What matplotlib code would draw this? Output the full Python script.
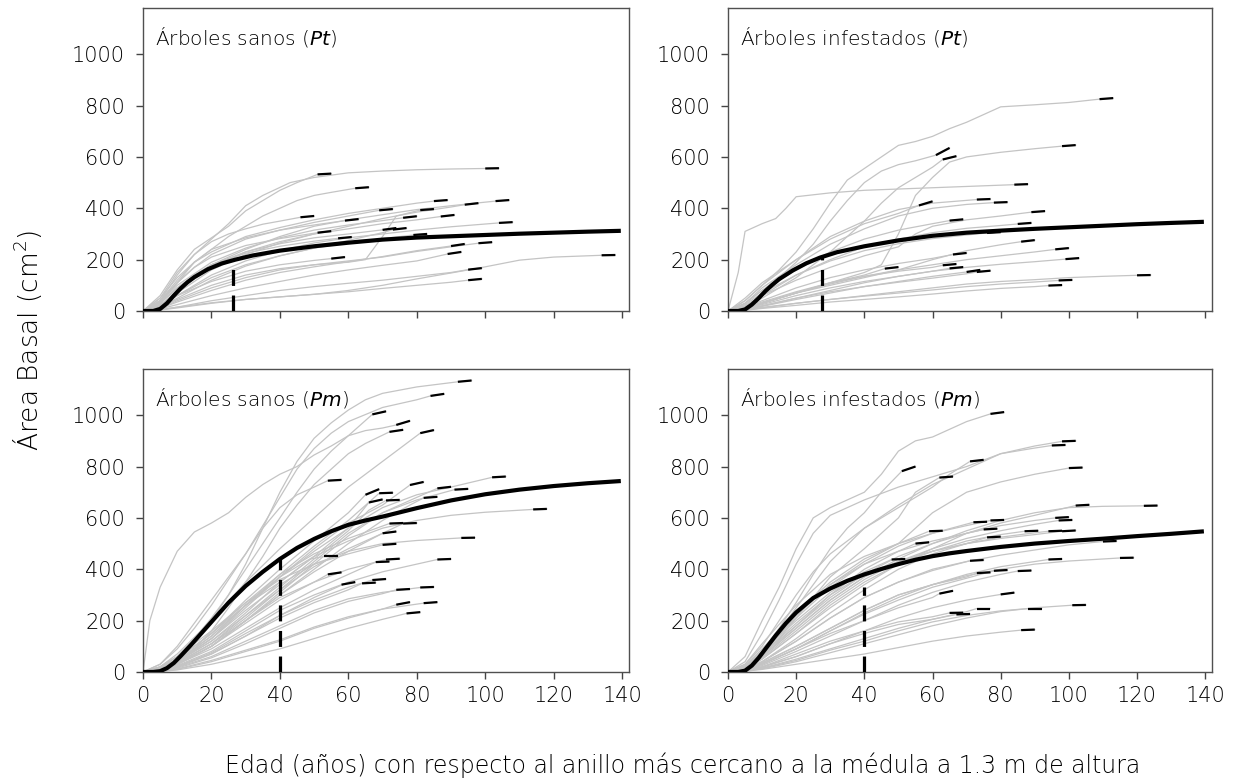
import matplotlib
matplotlib.use("Agg")
import matplotlib.pyplot as plt

plt.rcParams['font.family'] = ['DejaVu Sans']
plt.rcParams['font.weight'] = 200
plt.rcParams['mathtext.fontset'] = 'dejavusans'

# --- datos: (edad, área basal) de cada árbol; el último tramo de cada serie se marca en negro ---
sanos_pt = [
    [(0, 0), (5, 40), (10, 140), (15, 220), (20, 280), (25, 340), (30, 410), (35, 450), (43, 500), (50, 520), (60, 538), (70, 545), (80, 550), (90, 553), (100, 555), (104, 556)],
    [(0, 0), (5, 60), (10, 160), (15, 240), (20, 285), (25, 330), (30, 390), (35, 430), (40, 470), (45, 500), (51, 532), (55, 535)],
    [(0, 0), (5, 30), (10, 110), (15, 190), (20, 240), (25, 290), (30, 330), (35, 370), (40, 400), (45, 430), (50, 450), (55, 462), (62, 478), (66, 482)],
    [(0, 0), (5, 30), (10, 90), (20, 180), (30, 240), (40, 290), (50, 330), (60, 355), (70, 375), (80, 395), (90, 410), (103, 428), (107, 432)],
    [(0, 0), (5, 25), (10, 70), (20, 160), (30, 220), (40, 265), (50, 300), (60, 330), (70, 360), (80, 385), (90, 405), (94, 414), (98, 420)],
    [(0, 0), (5, 50), (10, 130), (15, 190), (20, 230), (30, 290), (40, 325), (50, 355), (60, 380), (70, 400), (80, 420), (85, 428), (89, 432)],
    [(0, 0), (5, 40), (10, 110), (15, 170), (20, 220), (30, 280), (40, 315), (50, 345), (60, 370), (69, 392), (73, 397)],
    [(0, 0), (5, 15), (10, 45), (20, 100), (30, 140), (40, 165), (50, 180), (60, 190), (65, 200), (70, 290), (74, 370), (81, 393), (85, 397)],
    [(0, 0), (5, 35), (10, 100), (20, 190), (30, 245), (40, 285), (50, 315), (60, 335), (70, 352), (76, 363), (80, 369)],
    [(0, 0), (5, 20), (10, 80), (20, 170), (30, 230), (40, 270), (50, 300), (60, 320), (70, 340), (80, 355), (87, 368), (91, 374)],
    [(0, 0), (5, 50), (10, 150), (15, 220), (20, 270), (25, 300), (30, 320), (35, 338), (40, 350), (46, 365), (50, 370)],
    [(0, 0), (5, 40), (10, 120), (15, 190), (20, 240), (30, 285), (40, 315), (50, 335), (59, 352), (63, 358)],
    [(0, 0), (5, 20), (10, 60), (20, 140), (30, 195), (40, 235), (50, 265), (60, 285), (70, 300), (80, 315), (90, 328), (104, 343), (108, 346)],
    [(0, 0), (5, 30), (10, 90), (20, 180), (30, 230), (40, 262), (50, 285), (60, 300), (70, 316), (74, 323)],
    [(0, 0), (5, 20), (10, 60), (20, 130), (30, 180), (40, 215), (50, 245), (60, 275), (70, 305), (73, 317), (77, 323)],
    [(0, 0), (5, 40), (10, 110), (15, 170), (20, 210), (30, 255), (40, 282), (51, 305), (55, 311)],
    [(0, 0), (5, 30), (10, 90), (15, 140), (20, 180), (30, 225), (40, 252), (50, 272), (57, 283), (61, 288)],
    [(0, 0), (5, 15), (10, 50), (20, 120), (30, 175), (40, 215), (50, 245), (60, 265), (70, 282), (79, 296), (83, 300)],
    [(0, 0), (5, 10), (10, 40), (20, 90), (30, 130), (40, 160), (50, 180), (60, 195), (70, 210), (80, 232), (90, 250), (98, 264), (102, 268)],
    [(0, 0), (5, 10), (10, 35), (20, 80), (30, 120), (40, 150), (50, 172), (60, 192), (70, 212), (80, 235), (90, 253), (94, 261)],
    [(0, 0), (5, 8), (10, 25), (20, 60), (30, 90), (40, 115), (50, 140), (60, 160), (70, 178), (80, 195), (89, 222), (93, 230)],
    [(0, 0), (5, 25), (10, 60), (20, 115), (30, 155), (40, 180), (50, 197), (55, 204), (59, 210)],
    [(0, 0), (5, 5), (10, 15), (20, 40), (30, 60), (40, 80), (50, 95), (60, 108), (70, 120), (80, 135), (90, 150), (95, 161), (99, 167)],
    [(0, 0), (5, 4), (10, 12), (20, 30), (30, 45), (40, 55), (50, 65), (60, 75), (70, 88), (80, 100), (90, 112), (95, 120), (99, 125)],
    [(0, 0), (5, 5), (10, 15), (20, 32), (30, 45), (40, 55), (50, 65), (60, 80), (70, 100), (80, 125), (90, 148), (100, 172), (110, 198), (120, 210), (130, 215), (134, 217), (138, 218)],
]

infestados_pt = [
    [(0, 0), (5, 40), (10, 100), (15, 160), (20, 230), (25, 320), (30, 420), (35, 510), (40, 555), (45, 600), (50, 645), (55, 660), (60, 680), (65, 710), (70, 735), (75, 765), (80, 795), (90, 803), (100, 812), (109, 825), (113, 829)],
    [(0, 0), (5, 10), (10, 30), (20, 70), (30, 110), (40, 150), (45, 180), (50, 300), (55, 450), (60, 520), (65, 580), (70, 600), (80, 618), (90, 632), (98, 642), (102, 646)],
    [(0, 0), (5, 30), (10, 80), (15, 130), (20, 190), (25, 260), (30, 350), (35, 430), (40, 500), (45, 545), (50, 570), (55, 585), (61, 607), (65, 635)],
    [(0, 0), (5, 15), (10, 50), (15, 90), (20, 130), (25, 180), (30, 230), (35, 290), (40, 350), (45, 420), (50, 480), (55, 520), (60, 560), (63, 590), (67, 603)],
    [(0, 0), (3, 150), (5, 310), (10, 340), (14, 360), (17, 400), (20, 445), (30, 460), (40, 470), (50, 475), (60, 480), (70, 485), (84, 492), (88, 494)],
    [(0, 0), (5, 50), (10, 110), (20, 200), (30, 290), (40, 350), (50, 395), (60, 420), (73, 434), (77, 436)],
    [(0, 0), (5, 30), (10, 90), (20, 180), (30, 260), (40, 320), (50, 370), (60, 400), (70, 415), (78, 422), (82, 424)],
    [(0, 0), (5, 40), (10, 100), (20, 200), (30, 280), (40, 340), (50, 380), (56, 411), (60, 427)],
    [(0, 0), (5, 20), (10, 60), (20, 120), (30, 170), (40, 215), (50, 250), (55, 300), (60, 330), (70, 355), (80, 370), (89, 385), (93, 389)],
    [(0, 0), (5, 30), (10, 80), (20, 160), (30, 230), (40, 280), (50, 315), (60, 340), (65, 352), (69, 357)],
    [(0, 0), (5, 20), (10, 60), (20, 140), (30, 200), (40, 250), (50, 280), (60, 305), (70, 322), (80, 333), (85, 339), (89, 343)],
    [(0, 0), (5, 25), (10, 70), (20, 140), (30, 195), (40, 235), (50, 262), (60, 282), (70, 296), (76, 304), (80, 307)],
    [(0, 0), (5, 10), (10, 30), (20, 70), (30, 100), (40, 130), (50, 160), (60, 200), (70, 235), (80, 258), (86, 270), (90, 276)],
    [(0, 0), (5, 10), (10, 30), (20, 70), (30, 105), (40, 135), (50, 160), (60, 180), (70, 200), (80, 215), (90, 230), (96, 240), (100, 245)],
    [(0, 0), (5, 15), (10, 40), (20, 90), (30, 130), (40, 160), (50, 185), (60, 205), (66, 220), (70, 226)],
    [(0, 0), (5, 5), (10, 20), (20, 50), (30, 80), (40, 110), (50, 135), (60, 155), (70, 170), (80, 182), (90, 192), (99, 202), (103, 206)],
    [(0, 0), (5, 10), (10, 30), (20, 70), (30, 110), (40, 140), (46, 165), (50, 171)],
    [(0, 0), (5, 12), (10, 35), (20, 75), (30, 110), (40, 135), (50, 155), (60, 170), (63, 178), (67, 183)],
    [(0, 0), (5, 8), (10, 25), (20, 60), (30, 90), (40, 115), (50, 135), (60, 155), (65, 166), (69, 171)],
    [(0, 0), (5, 5), (10, 18), (20, 45), (30, 70), (40, 95), (50, 115), (60, 135), (70, 152), (74, 160)],
    [(0, 0), (5, 6), (10, 20), (20, 50), (30, 75), (40, 95), (50, 112), (60, 128), (70, 145), (73, 152), (77, 157)],
    [(0, 0), (5, 4), (10, 12), (20, 30), (30, 45), (40, 60), (50, 75), (60, 90), (70, 105), (80, 115), (90, 122), (100, 130), (110, 135), (120, 139), (124, 140)],
    [(0, 0), (5, 5), (10, 14), (20, 30), (30, 45), (40, 58), (50, 70), (60, 82), (70, 95), (80, 105), (90, 113), (97, 119), (101, 121)],
    [(0, 0), (5, 3), (10, 10), (20, 22), (30, 35), (40, 45), (50, 55), (60, 66), (70, 78), (80, 88), (90, 95), (94, 99), (98, 101)],
]

sanos_pm = [
    [(0, 0), (5, 20), (10, 60), (15, 120), (20, 200), (25, 300), (30, 420), (35, 560), (40, 700), (45, 820), (50, 910), (55, 970), (60, 1020), (65, 1060), (70, 1085), (80, 1110), (92, 1130), (96, 1135)],
    [(0, 0), (5, 30), (10, 90), (15, 170), (20, 260), (25, 360), (30, 460), (35, 570), (40, 680), (45, 790), (50, 870), (55, 930), (60, 975), (70, 1030), (80, 1060), (84, 1075), (88, 1083)],
    [(0, 0), (5, 15), (10, 60), (15, 130), (20, 210), (25, 300), (30, 400), (35, 500), (40, 600), (45, 700), (50, 790), (55, 860), (60, 920), (67, 1003), (71, 1015)],
    [(0, 0), (2, 200), (5, 330), (10, 470), (15, 545), (20, 580), (25, 620), (30, 680), (35, 730), (40, 770), (45, 800), (50, 845), (55, 880), (60, 920), (65, 940), (70, 950), (74, 962), (78, 978)],
    [(0, 0), (5, 10), (10, 40), (15, 90), (20, 160), (25, 250), (30, 350), (35, 450), (40, 560), (45, 650), (50, 730), (55, 790), (60, 850), (65, 890), (72, 935), (76, 943)],
    [(0, 0), (5, 20), (10, 70), (20, 200), (30, 350), (40, 480), (50, 600), (60, 720), (70, 820), (75, 870), (81, 930), (85, 942)],
    [(0, 0), (5, 10), (10, 40), (20, 120), (30, 230), (40, 350), (50, 450), (60, 560), (70, 640), (80, 690), (90, 720), (102, 758), (106, 761)],
    [(0, 0), (5, 30), (10, 100), (15, 190), (20, 280), (25, 370), (30, 460), (35, 560), (40, 640), (45, 690), (50, 720), (54, 745), (58, 748)],
    [(0, 0), (5, 10), (10, 40), (20, 130), (30, 250), (40, 370), (50, 480), (60, 580), (70, 650), (78, 728), (82, 740)],
    [(0, 0), (5, 8), (10, 30), (20, 100), (30, 200), (40, 310), (50, 420), (60, 530), (70, 620), (80, 680), (86, 715), (90, 721)],
    [(0, 0), (5, 10), (10, 35), (20, 110), (30, 210), (40, 320), (50, 430), (60, 540), (70, 620), (80, 670), (91, 710), (95, 713)],
    [(0, 0), (5, 15), (10, 50), (20, 150), (30, 280), (40, 400), (50, 510), (60, 620), (65, 690), (69, 712)],
    [(0, 0), (5, 10), (10, 40), (20, 130), (30, 260), (40, 380), (50, 490), (60, 590), (69, 696), (73, 698)],
    [(0, 0), (5, 12), (10, 45), (20, 140), (30, 260), (40, 370), (50, 470), (60, 560), (66, 660), (70, 672)],
    [(0, 0), (5, 8), (10, 35), (20, 110), (30, 220), (40, 330), (50, 440), (60, 550), (66, 630), (71, 668), (75, 670)],
    [(0, 0), (5, 10), (10, 30), (20, 100), (30, 200), (40, 300), (50, 400), (60, 500), (70, 590), (78, 650), (82, 678), (86, 682)],
    [(0, 0), (5, 10), (10, 40), (20, 140), (30, 260), (40, 370), (50, 450), (60, 510), (70, 560), (80, 590), (90, 610), (100, 622), (114, 633), (118, 635)],
    [(0, 0), (5, 15), (10, 50), (20, 150), (30, 270), (40, 380), (50, 460), (60, 520), (72, 578), (76, 580)],
    [(0, 0), (5, 10), (10, 30), (20, 100), (30, 200), (40, 300), (50, 390), (60, 470), (70, 540), (76, 578), (80, 580)],
    [(0, 0), (5, 12), (10, 40), (20, 120), (30, 220), (40, 320), (50, 410), (60, 480), (70, 540), (74, 547)],
    [(0, 0), (5, 20), (10, 60), (20, 160), (30, 270), (40, 360), (50, 420), (60, 460), (70, 495), (74, 499)],
    [(0, 0), (5, 10), (10, 40), (20, 130), (30, 240), (40, 340), (50, 420), (60, 470), (70, 500), (80, 512), (93, 522), (97, 523)],
    [(0, 0), (5, 15), (10, 50), (20, 150), (30, 260), (40, 350), (49, 440), (53, 450), (57, 450)],
    [(0, 0), (5, 8), (10, 30), (20, 90), (30, 170), (40, 250), (50, 320), (60, 380), (68, 428), (72, 430)],
    [(0, 0), (5, 10), (10, 30), (20, 100), (30, 190), (40, 280), (50, 350), (60, 400), (71, 438), (75, 441)],
    [(0, 0), (5, 5), (10, 20), (20, 70), (30, 140), (40, 220), (50, 290), (60, 350), (70, 390), (80, 420), (86, 438), (90, 440)],
    [(0, 0), (5, 10), (10, 35), (20, 110), (30, 200), (40, 290), (50, 350), (54, 380), (58, 388)],
    [(0, 0), (5, 8), (10, 25), (20, 80), (30, 160), (40, 240), (50, 300), (58, 340), (62, 350)],
    [(0, 0), (5, 5), (10, 20), (20, 70), (30, 140), (40, 210), (50, 270), (60, 320), (64, 345), (68, 348)],
    [(0, 0), (5, 6), (10, 22), (20, 75), (30, 150), (40, 220), (50, 280), (60, 330), (67, 358), (71, 362)],
    [(0, 0), (5, 5), (10, 15), (20, 55), (30, 110), (40, 170), (50, 230), (60, 275), (70, 305), (74, 320), (78, 323)],
    [(0, 0), (5, 5), (10, 18), (20, 60), (30, 120), (40, 180), (50, 240), (60, 285), (70, 310), (81, 329), (85, 331)],
    [(0, 0), (5, 3), (10, 10), (20, 40), (30, 80), (40, 120), (50, 170), (60, 210), (70, 245), (74, 262), (78, 272)],
    [(0, 0), (5, 3), (10, 12), (20, 45), (30, 85), (40, 125), (50, 175), (60, 215), (70, 245), (82, 268), (86, 272)],
    [(0, 0), (5, 2), (10, 8), (20, 30), (30, 60), (40, 90), (50, 130), (60, 170), (70, 205), (77, 228), (81, 233)],
]

infestados_pm = [
    [(0, 0), (5, 60), (10, 200), (15, 330), (20, 480), (25, 600), (30, 640), (35, 670), (40, 700), (45, 770), (50, 860), (55, 900), (60, 915), (65, 945), (70, 975), (77, 1005), (81, 1012)],
    [(0, 0), (5, 40), (10, 150), (15, 280), (20, 420), (25, 540), (30, 610), (35, 640), (40, 670), (50, 720), (60, 760), (70, 800), (80, 850), (90, 880), (98, 898), (102, 900)],
    [(0, 0), (5, 20), (10, 80), (15, 160), (20, 250), (25, 340), (30, 430), (40, 560), (50, 650), (60, 730), (70, 790), (80, 850), (90, 872), (95, 882), (99, 884)],
    [(0, 0), (5, 30), (10, 100), (15, 200), (20, 300), (25, 390), (30, 460), (40, 560), (50, 640), (60, 720), (65, 770), (71, 820), (75, 826)],
    [(0, 0), (5, 20), (10, 80), (15, 170), (20, 270), (25, 380), (30, 480), (35, 560), (40, 620), (45, 700), (51, 782), (55, 800)],
    [(0, 0), (5, 15), (10, 60), (15, 130), (20, 210), (25, 290), (30, 370), (40, 480), (50, 600), (55, 700), (62, 757), (66, 761)],
    [(0, 0), (5, 20), (10, 70), (15, 140), (20, 220), (30, 340), (40, 430), (50, 500), (55, 560), (60, 620), (70, 700), (80, 740), (90, 770), (100, 794), (104, 796)],
    [(0, 0), (5, 10), (10, 50), (20, 150), (30, 250), (40, 340), (50, 420), (60, 480), (70, 540), (80, 580), (90, 610), (102, 648), (106, 651)],
    [(0, 0), (5, 15), (10, 60), (20, 170), (30, 280), (40, 370), (50, 440), (60, 500), (70, 550), (80, 590), (90, 620), (100, 640), (110, 645), (122, 647), (126, 648)],
    [(0, 0), (5, 20), (10, 70), (20, 180), (30, 290), (40, 380), (50, 450), (60, 500), (70, 540), (80, 570), (90, 590), (96, 600), (100, 603)],
    [(0, 0), (5, 15), (10, 55), (20, 160), (30, 270), (40, 360), (50, 430), (60, 480), (70, 520), (80, 550), (90, 575), (97, 590), (101, 592)],
    [(0, 0), (5, 25), (10, 90), (20, 230), (30, 350), (40, 440), (50, 500), (60, 540), (72, 583), (76, 585)],
    [(0, 0), (5, 20), (10, 80), (20, 210), (30, 330), (40, 420), (50, 490), (60, 540), (70, 570), (77, 590), (81, 592)],
    [(0, 0), (5, 30), (10, 110), (20, 260), (30, 380), (40, 450), (50, 500), (59, 548), (63, 550)],
    [(0, 0), (5, 15), (10, 60), (20, 180), (30, 300), (40, 400), (50, 470), (60, 510), (70, 540), (75, 555), (79, 558)],
    [(0, 0), (5, 12), (10, 50), (20, 150), (30, 260), (40, 350), (50, 420), (60, 470), (70, 510), (80, 535), (87, 548), (91, 550)],
    [(0, 0), (5, 10), (10, 40), (20, 130), (30, 230), (40, 320), (50, 400), (60, 460), (70, 500), (80, 525), (90, 542), (94, 548), (98, 550)],
    [(0, 0), (5, 15), (10, 60), (20, 170), (30, 280), (40, 370), (50, 430), (60, 470), (70, 500), (80, 520), (90, 535), (98, 548), (102, 551)],
    [(0, 0), (5, 20), (10, 70), (20, 190), (30, 300), (40, 380), (50, 430), (60, 470), (70, 500), (76, 524), (80, 527)],
    [(0, 0), (5, 20), (10, 80), (20, 220), (30, 340), (40, 420), (50, 470), (55, 500), (59, 505)],
    [(0, 0), (5, 10), (10, 40), (20, 120), (30, 210), (40, 290), (50, 350), (60, 400), (70, 430), (80, 455), (90, 475), (100, 495), (110, 508), (114, 510)],
    [(0, 0), (5, 20), (10, 80), (20, 200), (30, 310), (40, 390), (48, 438), (52, 440)],
    [(0, 0), (5, 10), (10, 40), (20, 120), (30, 210), (40, 290), (50, 350), (60, 395), (71, 433), (75, 436)],
    [(0, 0), (5, 8), (10, 30), (20, 90), (30, 160), (40, 230), (50, 290), (60, 340), (70, 380), (80, 410), (90, 430), (94, 438), (98, 440)],
    [(0, 0), (5, 10), (10, 35), (20, 100), (30, 170), (40, 240), (50, 300), (60, 340), (70, 375), (80, 400), (90, 420), (100, 432), (115, 444), (119, 445)],
    [(0, 0), (5, 10), (10, 35), (20, 100), (30, 170), (40, 240), (50, 300), (60, 340), (70, 370), (73, 385), (77, 388)],
    [(0, 0), (5, 8), (10, 30), (20, 90), (30, 160), (40, 225), (50, 280), (60, 330), (70, 365), (78, 394), (82, 397)],
    [(0, 0), (5, 6), (10, 25), (20, 80), (30, 140), (40, 200), (50, 260), (60, 310), (70, 350), (80, 380), (85, 393), (89, 395)],
    [(0, 0), (5, 8), (10, 30), (20, 90), (30, 150), (40, 200), (50, 250), (60, 290), (62, 305), (66, 316)],
    [(0, 0), (5, 5), (10, 20), (20, 60), (30, 110), (40, 160), (50, 210), (60, 250), (70, 280), (80, 302), (84, 309)],
    [(0, 0), (5, 6), (10, 20), (20, 70), (30, 120), (40, 160), (50, 195), (60, 215), (65, 230), (69, 231)],
    [(0, 0), (5, 5), (10, 18), (20, 60), (30, 110), (40, 150), (50, 185), (60, 205), (67, 224), (71, 226)],
    [(0, 0), (5, 5), (10, 15), (20, 50), (30, 90), (40, 130), (50, 170), (60, 205), (70, 235), (73, 247), (77, 247)],
    [(0, 0), (5, 4), (10, 14), (20, 45), (30, 85), (40, 120), (50, 160), (60, 195), (70, 220), (80, 238), (88, 247), (92, 247)],
    [(0, 0), (5, 4), (10, 12), (20, 40), (30, 75), (40, 110), (50, 145), (60, 180), (70, 210), (80, 235), (90, 250), (101, 260), (105, 261)],
    [(0, 0), (5, 3), (10, 10), (20, 30), (30, 50), (40, 70), (50, 95), (60, 120), (70, 140), (80, 155), (86, 163), (90, 165)],
]

# modelo ajustado (curva negra)
modelo_edad_pt = [0, 3, 5, 7, 9, 11, 13, 15, 19, 23, 27, 32, 40, 50, 60, 70, 80, 90, 100, 110, 120, 130, 139]
modelo_sanos_pt = [0, 0, 8, 30, 60, 88, 112, 132, 163, 185, 200, 216, 235, 252, 266, 278, 286, 291, 296, 301, 305, 309, 312]
modelo_infest_pt = [0, 0, 6, 25, 50, 78, 102, 124, 158, 186, 208, 229, 252, 275, 293, 305, 313, 320, 326, 332, 338, 343, 347]
modelo_edad_pm = [0, 3, 5, 7, 9, 11, 14, 17, 20, 25, 30, 35, 40, 45, 50, 55, 60, 65, 70, 80, 90, 100, 110, 120, 130, 139]
modelo_sanos_pm = [0, 0, 3, 15, 35, 62, 105, 150, 195, 270, 335, 390, 440, 483, 518, 548, 573, 590, 605, 638, 668, 692, 710, 724, 735, 743]
modelo_infest_pm = [0, 0, 5, 25, 55, 90, 142, 190, 232, 288, 325, 355, 380, 401, 420, 437, 451, 462, 471, 487, 500, 510, 519, 529, 538, 547]

# punto de inflexión (edad, altura de la línea discontinua)
inflexion = [(26.3, 198), (27.5, 210), (40, 440), (40, 332)]

titulos = ['Árboles sanos ($\\mathit{Pt}$)', 'Árboles infestados ($\\mathit{Pt}$)',
           'Árboles sanos ($\\mathit{Pm}$)', 'Árboles infestados ($\\mathit{Pm}$)']
arboles = [sanos_pt, infestados_pt, sanos_pm, infestados_pm]
modelos = [(modelo_edad_pt, modelo_sanos_pt), (modelo_edad_pt, modelo_infest_pt),
           (modelo_edad_pm, modelo_sanos_pm), (modelo_edad_pm, modelo_infest_pm)]

fig = plt.figure(figsize=(12.36, 7.82), dpi=100)
posiciones = [[0.1157, 0.6023, 0.3932, 0.3875], [0.589, 0.6023, 0.3916, 0.3875],
              [0.1157, 0.1407, 0.3932, 0.3875], [0.589, 0.1407, 0.3916, 0.3875]]

for k in range(4):
    ax = fig.add_axes(posiciones[k])
    for serie in arboles[k]:
        x = [p[0] for p in serie]
        y = [p[1] for p in serie]
        ax.plot(x, y, color='#c4c4c4', lw=0.9, zorder=1)
        ax.plot(x[-2:], y[-2:], color='black', lw=1.6, solid_capstyle='butt', zorder=2)
    mx, my = modelos[k]
    ax.plot(mx, my, color='black', lw=3.0, zorder=3)
    ex, ey = inflexion[k]
    ax.plot([ex, ex], [0, ey], color='black', lw=2.3, dashes=(5, 3), zorder=3)

    ax.set_xlim(0, 142)
    ax.set_ylim(0, 1180)
    ax.set_xticks(range(0, 141, 20))
    ax.set_yticks(range(0, 1001, 200))
    ax.tick_params(direction='out', length=5, width=1, color='#444444',
                   labelsize=15, labelcolor='black')
    ax.tick_params(axis='y', pad=8)
    ax.tick_params(axis='x', pad=5)
    if k < 2:
        ax.tick_params(axis='x', labelbottom=False)
    for s in ax.spines.values():
        s.set_color('#505050')
        s.set_linewidth(1.0)
    ax.text(0.025, 0.905, titulos[k], transform=ax.transAxes, fontsize=14.5,
            ha='left', va='center', color='black')

fig.text(0.022, 0.565, 'Área Basal (cm$^{2}$)', rotation=90, ha='center', va='center',
         fontsize=19, color='black')
fig.text(0.552, 0.022, 'Edad (años) con respecto al anillo más cercano a la médula a 1.3 m de altura',
         ha='center', va='center', fontsize=17, color='black')

fig.savefig('out.png', dpi=100)
